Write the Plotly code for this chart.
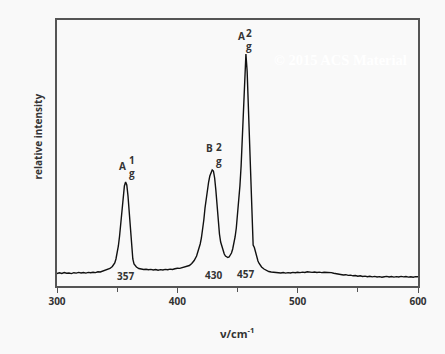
import plotly.graph_objects as go

# Raman shift (cm^-1) and relative intensity
shift = [300, 302, 304, 306, 308, 310, 312, 314, 316, 318, 320, 322, 324, 326, 328, 330,
         332, 334, 336, 338, 340, 342, 344, 346, 348, 349, 350, 351, 352, 353, 354, 355,
         356, 357, 358, 359, 360, 361, 362, 363, 364, 366, 368, 370, 372, 374, 376, 378,
         380, 382, 384, 386, 388, 390, 392, 394, 396, 398, 400, 402, 404, 406, 408, 410,
         412, 414, 416, 418, 419, 420, 421, 422, 423, 424, 425, 426, 427, 428, 429, 430,
         431, 432, 433, 434, 435, 436, 437, 438, 439, 440, 441, 442, 443, 444, 445, 446,
         447, 448, 449, 450, 451, 452, 453, 454, 455, 456, 457, 458, 459, 460, 461, 462,
         462.5, 463, 464, 465, 466, 467, 468, 470, 472, 474, 476, 478,
         480, 482, 484, 486, 488, 490, 492, 494, 496, 498, 500, 502, 504, 506, 508, 510,
         512, 514, 516, 518, 520, 522, 524, 526, 528, 530, 532, 534, 536, 538, 540, 542,
         544, 546, 548, 550, 552, 554, 556, 558, 560, 562, 564, 566, 568, 570, 572, 574,
         576, 578, 580, 582, 584, 586, 588, 590, 592, 594, 596, 598, 600]
intensity = [12.5, 13.2, 12.6, 13.4, 12.8, 13.0, 12.4, 13.3, 12.9, 13.6, 13.0, 13.5, 12.9, 13.6, 13.2, 13.8,
             13.4, 14.2, 14.0, 14.8, 15.3, 16.0, 17.5, 19.5, 23, 27, 32, 40, 50, 62, 76, 90,
             100, 104, 101, 90, 72, 52, 36, 27, 22, 19, 17.5, 17, 16.5, 16.8, 16.2, 16.6,
             16.0, 16.5, 15.8, 16.4, 16.0, 16.6, 16.3, 16.9, 16.5, 17.2, 17.8, 17.6, 18.4, 18.6, 19.4, 20.5,
             22.5, 25.5, 30, 37, 42, 48, 56, 66, 78, 88, 96, 104, 110, 114, 116, 115,
             108, 96, 80, 63, 52, 44, 39, 35, 32, 30, 29, 28.5, 29, 30.5, 33, 37,
             42, 49, 58, 70, 84, 100, 120, 150, 185, 218, 232, 215, 178, 150, 115, 70,
             48, 41, 38.5, 34, 28, 25, 22.5, 19, 17, 15.5, 14.5, 14,
             13.8, 13.2, 13.6, 13.0, 13.5, 12.9, 13.4, 13.0, 13.6, 13.2, 13.8, 13.4, 13.9, 13.5, 14.2, 13.8,
             13.6, 14.0, 13.5, 13.9, 13.4, 13.8, 13.6, 14.1, 13.4, 12.8, 12.4, 11.6, 11.4, 11.0, 11.3, 10.6,
             10.9, 10.2, 10.5, 9.8, 10.2, 9.5, 9.9, 9.3, 9.7, 9.1, 9.6, 9.0, 9.4, 8.8, 9.3, 9.6,
             9.0, 9.5, 8.9, 9.4, 9.0, 9.6, 9.1, 9.5, 8.9, 9.3, 8.8, 9.4, 9.2]

peak_pos = [357, 430, 457]
peak_label_y = [10, 11.5, 12]
mode_base = ["A", "B", "A"]
mode_sup = ["1", "2", "2"]
base_x = [354.5, 426.5, 453.6]
base_y = [120, 137.7, 250]
idx_x = [362.3, 434.3, 459.7]
sup_y = [126, 139.5, 253]
sub_y = [112.7, 125, 240]

TXT = "#333333"
FONT = "Open Sans"
fig = go.Figure()
fig.add_trace(go.Scatter(x=shift, y=intensity, mode="lines",
                         line=dict(color="#111111", width=1.4), showlegend=False,
                         hoverinfo="skip"))

ann = []
# faint watermark (drawn first)
ann.append(dict(x=0.595, y=0.887, xref="paper", yref="paper", xanchor="left",
                text="© 2015 ACS Material", showarrow=False,
                font=dict(family="Liberation Serif", size=14.5, color="#ffffff", weight="bold")))
for p, yy in zip(peak_pos, peak_label_y):
    ann.append(dict(x=p, y=yy, xref="x", yref="y", text=str(p), showarrow=False,
                    yanchor="middle", font=dict(family=FONT, size=10, color=TXT, weight="bold")))
lab_font = dict(family=FONT, size=10, color=TXT, weight="bold")
for b, s, bx, by, ix, sy, gy in zip(mode_base, mode_sup, base_x, base_y, idx_x, sup_y, sub_y):
    ann.append(dict(x=bx, y=by, xref="x", yref="y", text=b, showarrow=False,
                    yanchor="middle", font=lab_font))
    ann.append(dict(x=ix, y=sy, xref="x", yref="y", text=s, showarrow=False,
                    yanchor="middle", font=lab_font))
    ann.append(dict(x=ix, y=gy, xref="x", yref="y", text="g", showarrow=False,
                    yanchor="middle", font=lab_font))

ann.append(dict(x=0.4986, y=-0.175, xref="paper", yref="paper",
                text="ν/cm<sup>-1</sup>", showarrow=False, yanchor="middle",
                font=dict(family=FONT, size=11, color=TXT, weight="bold")))
ann.append(dict(x=-0.0776, y=0.562, xref="paper", yref="paper",
                text="relative intensity", textangle=-90, showarrow=False,
                font=dict(family=FONT, size=10, color=TXT, weight="bold")))

fig.update_layout(
    width=445, height=354,
    margin=dict(l=57, r=27, t=20, b=68),
    paper_bgcolor="#f9f9f9", plot_bgcolor="#f9f9f9",
    annotations=ann,
    xaxis=dict(range=[300, 600], tickvals=[300, 400, 500, 600], showgrid=False, zeroline=False,
               showline=True, linecolor="#555555", linewidth=1.6, mirror=True,
               ticks="outside", ticklen=5, tickcolor="#555555", tickwidth=1.2,
               tickfont=dict(family=FONT, size=10, color=TXT, weight="bold"),
               minor=dict(tickvals=[350, 450, 550], ticks="outside", ticklen=4,
                          tickcolor="#555555", tickwidth=1.2)),
    yaxis=dict(range=[0, 266], showticklabels=False, ticks="", showgrid=False, zeroline=False,
               showline=True, linecolor="#555555", linewidth=1.6, mirror=True),
)
fig.write_html("out.html")
